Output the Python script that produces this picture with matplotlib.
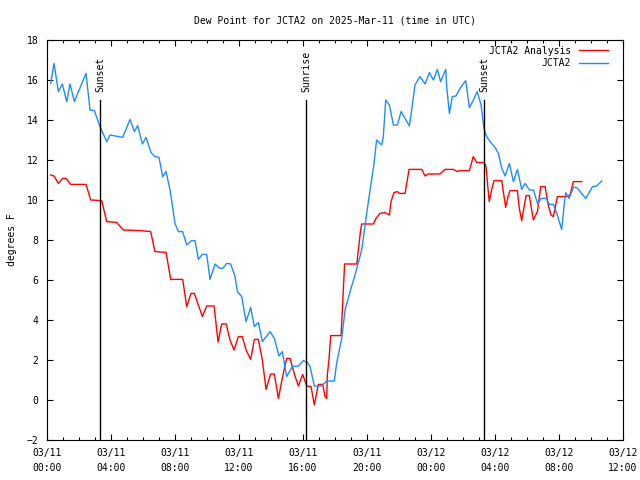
import numpy as np
import matplotlib
matplotlib.use("Agg")
import matplotlib.pyplot as plt
from matplotlib.ticker import MultipleLocator

plt.rcParams['font.family'] = ['DejaVu Sans Mono']
plt.rcParams['font.size'] = 7

# hours since 03/11 00:00 UTC
obs_t = [0.23, 0.44, 0.71, 0.96, 1.23, 1.44, 1.71, 2.44, 2.69, 2.96, 3.31, 3.73, 3.94,
         4.73, 5.19, 5.46, 5.67, 5.96, 6.19, 6.5, 6.75, 7.0, 7.23, 7.44, 7.69, 8.0,
         8.21, 8.48, 8.73, 9.04, 9.25, 9.46, 9.71, 9.98, 10.19, 10.5, 10.81, 10.98,
         11.23, 11.48, 11.75, 11.9, 12.17, 12.44, 12.73, 12.96, 13.21, 13.46, 13.94,
         14.21, 14.5, 14.71, 14.98, 15.33, 15.71, 16.02, 16.27, 16.44, 16.71, 17.17,
         17.48, 17.96, 18.1, 18.42, 18.63, 18.94, 19.25, 19.56, 19.67, 19.98, 20.29,
         20.44, 20.6, 20.92, 21.02, 21.17, 21.4, 21.65, 21.9, 22.13, 22.38, 22.65,
         22.79, 23.0, 23.31, 23.63, 23.9, 24.15, 24.4, 24.6, 24.92, 24.98, 25.15,
         25.33, 25.56, 25.81, 26.17, 26.4, 26.6, 26.89, 27.13, 27.31, 27.48, 27.69,
         28.0, 28.21, 28.42, 28.63, 28.9, 29.15, 29.4, 29.67, 29.88, 30.15, 30.4,
         30.67, 30.88, 31.19, 31.4, 31.65, 31.86, 32.02, 32.17, 32.31, 32.42, 32.63,
         32.9, 33.1, 33.67, 34.1, 34.35, 34.67]
obs_dp = [15.83, 16.83, 15.42, 15.8, 14.92, 15.8, 14.92, 16.33, 14.5, 14.47, 13.67, 12.92, 13.25,
          13.13, 14.03, 13.42, 13.72, 12.8, 13.13, 12.37, 12.17, 12.13, 11.17, 11.42, 10.5, 8.83,
          8.42, 8.42, 7.75, 7.97, 7.97, 7.03, 7.28, 7.28, 6.03, 6.8, 6.58, 6.58,
          6.83, 6.8, 6.17, 5.42, 5.17, 3.92, 4.63, 3.67, 3.88, 2.92, 3.42,
          3.08, 2.2, 2.42, 1.17, 1.67, 1.7, 1.97, 1.88, 1.67, 0.7, 0.7,
          0.95, 0.95, 1.83, 3.08, 4.5, 5.42, 6.25, 7.17, 7.5, 9.33, 11.0,
          11.83, 13.0, 12.75, 13.17, 15.0, 14.75, 13.75, 13.75, 14.42, 14.08, 13.7,
          14.5, 15.75, 16.17, 15.8, 16.37, 16.0, 16.53, 15.92, 16.53, 15.67, 14.33,
          15.17, 15.2, 15.58, 15.97, 14.62, 14.92, 15.42, 14.75, 13.58, 13.17, 12.92,
          12.63, 12.33, 11.6, 11.2, 11.83, 10.92, 11.53, 10.53, 10.83, 10.5, 10.5,
          9.8, 10.08, 10.08, 9.78, 9.78, 9.33, 8.92, 8.53, 9.67, 10.37, 10.08,
          10.63, 10.63, 10.08, 10.67, 10.7, 10.95]

ana_t = [0.23, 0.44, 0.71, 0.98, 1.19, 1.48, 2.44, 2.73, 3.42, 3.73, 4.35, 4.77, 5.81,
         6.48, 6.75, 7.44, 7.73, 8.48, 8.73, 9.0, 9.21, 9.71, 9.98, 10.44, 10.54,
         10.69, 10.92, 11.2, 11.44, 11.69, 11.96, 12.21, 12.44, 12.73, 12.96, 13.21,
         13.46, 13.69, 13.98, 14.21, 14.46, 14.77, 14.98, 15.19, 15.46, 15.71, 15.98,
         16.23, 16.5, 16.71, 16.96, 17.23, 17.38, 17.48, 17.52, 17.63, 17.73, 18.38,
         18.6, 19.36, 19.46, 19.6, 19.67, 20.4, 20.56, 20.81, 21.13, 21.4, 21.5,
         21.69, 21.9, 22.02, 22.38, 22.48, 22.63, 23.42, 23.63, 23.83, 24.56, 24.88,
         25.4, 25.65, 25.81, 26.4, 26.64, 26.85, 27.33, 27.44, 27.54, 27.64, 27.79,
         27.94, 28.42, 28.52, 28.67, 28.83, 28.94, 29.4, 29.52, 29.67, 29.94, 30.15,
         30.25, 30.4, 30.65, 30.86, 31.13, 31.33, 31.5, 31.65, 31.9, 32.48, 32.69,
         32.9, 33.42]
ana_dp = [11.25, 11.2, 10.83, 11.08, 11.08, 10.78, 10.78, 10.0, 9.97, 8.92, 8.88, 8.5, 8.47,
          8.42, 7.42, 7.38, 6.03, 6.03, 4.67, 5.33, 5.33, 4.17, 4.7, 4.7, 4.0,
          2.9, 3.8, 3.8, 3.0, 2.5, 3.17, 3.17, 2.5, 2.03, 3.03, 3.03,
          2.0, 0.53, 1.3, 1.3, 0.08, 1.33, 2.08, 2.08, 1.3, 0.7, 1.28,
          0.7, 0.67, -0.25, 0.78, 0.78, 0.17, 0.08, 1.25, 2.08, 3.22, 3.22,
          6.8, 6.8, 7.5, 8.5, 8.8, 8.8, 9.08, 9.33, 9.37, 9.25, 9.92,
          10.37, 10.42, 10.33, 10.33, 10.83, 11.53, 11.53, 11.2, 11.3, 11.3, 11.53,
          11.53, 11.42, 11.47, 11.47, 12.17, 11.88, 11.87, 11.67, 10.75, 9.92, 10.5,
          10.97, 10.97, 10.42, 9.63, 10.22, 10.47, 10.47, 9.58, 8.97, 10.22, 10.22,
          9.7, 9.0, 9.42, 10.67, 10.67, 9.75, 9.25, 9.17, 10.17, 10.17, 10.25,
          10.92, 10.92]

sun_t = [3.31, 16.19, 27.31]
sun_names = ["Sunset", "Sunrise", "Sunset"]

tick_hours = [0, 4, 8, 12, 16, 20, 24, 28, 32, 36]
tick_labels = ["03/11\n00:00", "03/11\n04:00", "03/11\n08:00", "03/11\n12:00",
               "03/11\n16:00", "03/11\n20:00", "03/12\n00:00", "03/12\n04:00",
               "03/12\n08:00", "03/12\n12:00"]

fig = plt.figure(figsize=(6.4, 4.8), dpi=100)
ax = fig.add_axes([47/640, 40/480, 576/640, 400/480])

ax.plot(ana_t, ana_dp, color='#ff0000', lw=1.0, label='JCTA2 Analysis')
ax.plot(obs_t, obs_dp, color='#1e8cff', lw=1.0, label='JCTA2')

for t, name in zip(sun_t, sun_names):
    ax.plot([t, t], [-2, 15], color='black', lw=1.0)
    ax.text(t, 15.4, name, rotation=90, ha='center', va='bottom', fontsize=7)

ax.set_xlim(0, 36)
ax.set_ylim(-2, 18)
ax.set_xticks(tick_hours)
ax.set_xticklabels(tick_labels, linespacing=1.6)
ax.xaxis.set_minor_locator(MultipleLocator(1))
ax.set_yticks(np.arange(-2, 19, 2))
ax.tick_params(which='both', direction='in', top=True, right=True, width=0.8)
ax.tick_params(which='major', length=4.5)
ax.tick_params(which='minor', length=2.5)
ax.tick_params(axis='x', pad=6)
ax.tick_params(axis='y', pad=6)
for s in ax.spines.values():
    s.set_linewidth(0.8)

ax.set_ylabel('degrees F', labelpad=7)
ax.set_title('Dew Point for JCTA2 on 2025-Mar-11 (time in UTC)', fontsize=7, pad=12)

ax.legend(loc='upper right', bbox_to_anchor=(1 - 8/576, 1 + 1/400), frameon=False,
          markerfirst=False, handlelength=3.0, handletextpad=0.8, labelspacing=0.25,
          borderaxespad=0.3, fontsize=7)

fig.savefig('out.png', dpi=100)
